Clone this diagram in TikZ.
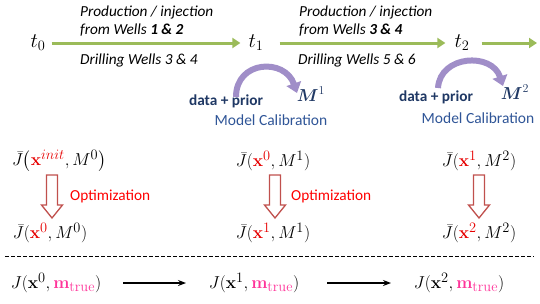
\documentclass[tikz,border=0pt]{standalone}
\usepackage[no-math]{fontspec}
\setmainfont{Carlito}
\usepackage{amsmath}
\usetikzlibrary{arrows.meta}
\definecolor{grn}{RGB}{155,187,89}
\definecolor{navy}{RGB}{31,56,100}
\definecolor{calblue}{RGB}{47,85,151}
\definecolor{optred}{RGB}{255,0,0}
\definecolor{xred}{RGB}{230,0,0}
\definecolor{mpink}{RGB}{255,51,153}
\definecolor{blockred}{RGB}{192,80,77}
\definecolor{arcpurple}{RGB}{160,142,200}
\newcommand{\xr}[1]{\textcolor{xred}{\mathbf{x}^{#1}}}
\newcommand{\mt}{\textcolor{mpink}{\mathbf{m}_{\mathrm{true}}}}
\begin{document}
\begin{tikzpicture}[x=1pt,y=-1pt,
  tlabel/.style={font=\fontsize{20}{24}\selectfont, inner sep=0pt},
  prodtext/.style={font=\itshape\fontsize{15.3}{18}\selectfont, align=left, anchor=west, inner sep=0pt},
  grnarrow/.style={draw=grn, line width=3pt, -{Triangle[width=10pt,length=8pt]}},
  datatext/.style={font=\bfseries\fontsize{15.3}{18}\selectfont, text=navy, inner sep=0pt},
  mtext/.style={font=\fontsize{18}{20}\selectfont, text=navy, inner sep=0pt},
  caltext/.style={font=\fontsize{15.5}{18}\selectfont, text=calblue, inner sep=0pt},
  arcarrow/.style={draw=arcpurple, line width=6pt, -{Triangle[width=15pt,length=10pt]}},
  jtext/.style={font=\fontsize{19}{22}\selectfont, inner sep=0pt},
  opttext/.style={font=\fontsize{15.3}{18}\selectfont, text=optred, anchor=west, inner sep=0pt},
  blockarrow/.style={draw=blockred, line width=1.3pt, fill=white},
  blackarrow/.style={draw=black, line width=1.2pt, -{Stealth[width=6pt,length=8pt]}}
]
\useasboundingbox (0,0) rectangle (540,303);
% time labels
\node[tlabel] (t0) at (38,43) {$t_0$};
\node[tlabel] (t1) at (256,43) {$t_1$};
\node[tlabel] (t2) at (462,43) {$t_2$};
\coordinate (tend) at (537,43);
\draw[grnarrow] ([xshift=6pt]t0.east) -- ([xshift=-8pt]t1.west);
\draw[grnarrow] ([xshift=16pt]t1.east) -- ([xshift=-9pt]t2.west);
\draw[grnarrow] ([xshift=12pt]t2.east) -- (tend);
% production texts
\node[prodtext] (p1) at (80,21) {Production / injection\\from Wells \textbf{1 \& 2}};
\node[prodtext] (d1) at (80,60) {Drilling Wells 3 \& 4};
\node[prodtext] (p2) at (299,21) {Production / injection\\from Wells \textbf{3 \& 4}};
\node[prodtext] (d2) at (298,60) {Drilling Wells 5 \& 6};
% calibration 1
\node[datatext] (dp1) at (226,101) {data + prior};
\node[mtext] (M1) at (311,94) {$\boldsymbol{M}^1$};
\node[caltext] (c1) at (271,120) {Model Calibration};
\coordinate (a1s) at (236,97);
\coordinate (a1e) at (297,93);
\draw[arcarrow] (a1s) .. controls (236,60) and (285,58) .. (a1e);
% calibration 2
\node[datatext] (dp2) at (436,97) {data + prior};
\node[mtext] (M2) at (515,92) {$\boldsymbol{M}^2$};
\node[caltext] (c2) at (478,118) {Model Calibration};
\coordinate (a2s) at (438,88);
\coordinate (a2e) at (503,86);
\draw[arcarrow] (a2s) .. controls (440,55) and (492,52) .. (a2e);
% optimization rows
\node[jtext] (j01) at (59,161) {$\bar{J}\bigl(\xr{init}, M^0\bigr)$};
\node[jtext] (j02) at (50,233) {$\bar{J}(\xr{0}, M^0)$};
\node[jtext] (j11) at (273,161) {$\bar{J}(\xr{0}, M^1)$};
\node[jtext] (j12) at (273,233) {$\bar{J}(\xr{1}, M^1)$};
\node[jtext] (j21) at (479,161) {$\bar{J}(\xr{1}, M^2)$};
\node[jtext] (j22) at (479,233) {$\bar{J}(\xr{2}, M^2)$};
\foreach \cx/\n in {52/a,275/b,479/c}{
  \draw[blockarrow] (\cx-5.5,175) -- (\cx+5.5,175) -- (\cx+5.5,205) -- (\cx+10.5,205)
     -- (\cx,218) -- (\cx-10.5,205) -- (\cx-5.5,205) -- cycle;
}
\node[opttext] (o1) at (70,196) {Optimization};
\node[opttext] (o2) at (291,196) {Optimization};
% dashed separator
\coordinate (ds) at (5,256);
\coordinate (de) at (534,256);
\draw[dashed, dash pattern=on 4pt off 2pt, line width=0.8pt] (ds) -- (de);
% bottom row
\node[jtext] (b0) at (56,283) {$J(\mathbf{x}^0, \mt)$};
\node[jtext] (b1) at (254,283) {$J(\mathbf{x}^1, \mt)$};
\node[jtext] (b2) at (459,283) {$J(\mathbf{x}^2, \mt)$};
\coordinate (r1s) at (123,283);
\coordinate (r1e) at (186,283);
\coordinate (r2s) at (327,283);
\coordinate (r2e) at (391,283);
\draw[blackarrow] (r1s) -- (r1e);
\draw[blackarrow] (r2s) -- (r2e);
\end{tikzpicture}
\end{document}
